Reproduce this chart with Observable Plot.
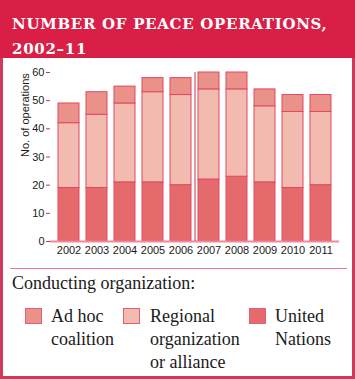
<!DOCTYPE html>
<html><head><meta charset="utf-8">
<script src="https://cdn.jsdelivr.net/npm/d3@7"></script>
<script src="https://cdn.jsdelivr.net/npm/@observablehq/plot@0.6"></script>
<style>
html,body{margin:0;padding:0;background:#fff;}
#wrap{position:relative;width:355px;height:379px;overflow:hidden;background:#fff;}
#frame{position:absolute;left:0;top:0;width:349px;height:373px;border:3px solid #cf3a5a;}
#title{position:absolute;left:0;top:0;width:355px;height:58px;background:#d91f46;color:#fff;
 font-family:"DejaVu Serif",serif;font-weight:bold;font-size:15px;letter-spacing:0.7px;line-height:25px;box-sizing:border-box;padding:12px 0 0 12px;}
#chart{position:absolute;left:0;top:58px;}
#sep{position:absolute;left:10px;top:268px;width:337px;height:1px;background:#e47a8a;}
.serif{font-family:"Liberation Serif","Times New Roman",serif;color:#1a1a1a;}
#legtitle{position:absolute;left:12px;top:273px;font-size:18px;}
.sw{position:absolute;width:17px;height:16px;top:308px;box-sizing:border-box;border:1px solid #e0607a;}
.lt{position:absolute;top:305px;font-size:18px;line-height:23px;}
</style></head>
<body><div id="wrap">
<div id="frame"></div>
<div id="title">NUMBER OF PEACE OPERATIONS,<br>2002–11</div>
<div id="chart"></div>
<div id="sep"></div>
<div id="legend"></div>
</div>
<script>
const years = ["2002","2003","2004","2005","2006","2007","2008","2009","2010","2011"];
const unitedNations = [19,19,21,21,20,22,23,21,19,20];
const regional = [23,26,28,32,32,32,31,27,27,26];
const adHoc = [7,8,6,5,6,6,6,6,6,6];
const seriesNames = ["United Nations","Regional organization or alliance","Ad hoc coalition"];
const seriesColors = ["#e46a6c","#f3bab0","#ea918a"];
const legendOrder = [["Ad hoc<br>coalition",2],["Regional<br>organization<br>or alliance",1],["United<br>Nations",0]];
const yTicks = [0,10,20,30,40,50,60];

const rows = [];
years.forEach((y,i)=>{
  rows.push({year:y, org:seriesNames[0], v:unitedNations[i]});
  rows.push({year:y, org:seriesNames[1], v:regional[i]});
  rows.push({year:y, org:seriesNames[2], v:adHoc[i]});
});

const plot = Plot.plot({
  width:355, height:206,
  marginTop:14, marginBottom:23, marginLeft:50, marginRight:16,
  style:{fontFamily:"Liberation Sans, Arial, sans-serif", fontSize:"11px", color:"#1a1a1a", background:"transparent"},
  x:{domain:years, padding:0.24, label:null},
  y:{domain:[0,60], label:null},
  color:{domain:seriesNames, range:seriesColors},
  marks:[
    Plot.barY(rows, Plot.stackY({x:"year", y:"v", fill:"org", stroke:"#e04a62", strokeWidth:1, order:seriesNames})),
    Plot.ruleY([0], {stroke:"#f2899a", strokeWidth:2}),
    Plot.axisY({ticks:yTicks, tickSize:4, stroke:"#c8324f", label:null, tickPadding:2}),
    Plot.ruleX([0], {x:null, frameAnchor:"left", stroke:"#c8324f"}),
    Plot.axisX({tickSize:0, tickPadding:5, label:null}),
    Plot.text(["No. of operations"], {frameAnchor:"left", rotate:-90, dx:-25, fill:"#1a1a1a"})
  ]
});
document.getElementById("chart").appendChild(plot);

const leg = document.getElementById("legend");
const lt = document.createElement("div");
lt.id="legtitle"; lt.className="serif"; lt.textContent="Conducting organization:";
leg.appendChild(lt);
const xs = [[25,51],[123,150],[249,275]];
legendOrder.forEach(([label,idx],k)=>{
  const s=document.createElement("div"); s.className="sw";
  s.style.left=xs[k][0]+"px"; s.style.background=seriesColors[idx];
  leg.appendChild(s);
  const t=document.createElement("div"); t.className="lt serif";
  t.style.left=xs[k][1]+"px"; t.innerHTML=label;
  leg.appendChild(t);
});
</script>
</body></html>
